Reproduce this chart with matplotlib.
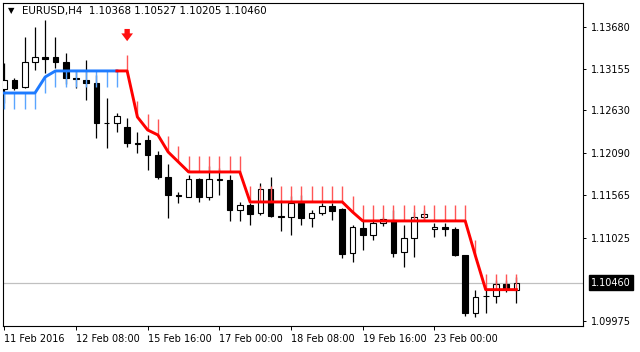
import matplotlib
matplotlib.use("Agg")
import matplotlib.pyplot as plt
import matplotlib.transforms as mtransforms

plt.rcParams['font.family'] = ['DejaVu Sans']
plt.rcParams['font.size'] = 7

# header line
symbol = "EURUSD,H4"
last_ohlc = ["1.10368", "1.10527", "1.10205", "1.10460"]

# H4 candles, one entry per bar
opens = [1.12899, 1.13012, 1.12924, 1.13239, 1.13302, 1.13302, 1.13239, 1.13037, 1.13012, 1.12974,
         1.12470, 1.12470, 1.12420, 1.12218, 1.12256, 1.12067, 1.11790, 1.11563, 1.11538, 1.11765,
         1.11538, 1.11752, 1.11752, 1.11374, 1.11437, 1.11336, 1.11639, 1.11299, 1.11286, 1.11462,
         1.11273, 1.11336, 1.11425, 1.11387, 1.10832, 1.11147, 1.11059, 1.11210, 1.11248, 1.10845,
         1.11021, 1.11286, 1.11135, 1.11160, 1.11135, 1.10807, 1.10076, 1.10291, 1.10291, 1.10442,
         1.10368]
highs = [1.13226, 1.13037, 1.13554, 1.13680, 1.13768, 1.13554, 1.13352, 1.13138, 1.13264, 1.13075,
         1.12785, 1.12596, 1.12533, 1.12357, 1.12319, 1.12118, 1.11954, 1.11601, 1.11815, 1.11777,
         1.11929, 1.11903, 1.11815, 1.11475, 1.11462, 1.11714, 1.11790, 1.11500, 1.11550, 1.11563,
         1.11374, 1.11462, 1.11462, 1.11400, 1.11185, 1.11248, 1.11248, 1.11286, 1.11374, 1.11185,
         1.11349, 1.11374, 1.11210, 1.11210, 1.11160, 1.10807, 1.10366, 1.10366, 1.10492, 1.10492,
         1.10527]
lows = [1.12722, 1.12886, 1.12911, 1.13138, 1.13100, 1.13163, 1.12962, 1.12911, 1.12760, 1.12281,
        1.12155, 1.12357, 1.12168, 1.12092, 1.11878, 1.11765, 1.11273, 1.11462, 1.11538, 1.11475,
        1.11500, 1.11563, 1.11236, 1.11236, 1.11185, 1.11311, 1.11286, 1.11110, 1.11059, 1.11185,
        1.11160, 1.11311, 1.11248, 1.10769, 1.10719, 1.10870, 1.10996, 1.11173, 1.10782, 1.10656,
        1.10782, 1.11248, 1.11034, 1.11046, 1.10795, 1.10039, 1.10026, 1.10076, 1.10202, 1.10341,
        1.10205]
closes = [1.13012, 1.12911, 1.13239, 1.13302, 1.13277, 1.13239, 1.13037, 1.13030, 1.12974, 1.12470,
          1.12465, 1.12558, 1.12218, 1.12210, 1.12067, 1.11790, 1.11563, 1.11555, 1.11765, 1.11538,
          1.11765, 1.11760, 1.11374, 1.11437, 1.11324, 1.11639, 1.11299, 1.11290, 1.11462, 1.11273,
          1.11336, 1.11425, 1.11362, 1.10820, 1.11160, 1.11059, 1.11210, 1.11261, 1.10832, 1.11021,
          1.11286, 1.11324, 1.11160, 1.11135, 1.10807, 1.10076, 1.10278, 1.10295, 1.10442, 1.10379,
          1.10460]

# trailing stop line of the indicator
trail = [1.12848, 1.12848, 1.12848, 1.12848, 1.13050, 1.13126, 1.13126, 1.13126, 1.13126, 1.13126,
         1.13126, 1.13126, 1.13126, 1.12546, 1.12382, 1.12319, 1.12105, 1.11979, 1.11853, 1.11853,
         1.11853, 1.11853, 1.11853, 1.11853, 1.11475, 1.11475, 1.11475, 1.11475, 1.11475, 1.11475,
         1.11475, 1.11475, 1.11475, 1.11475, 1.11349, 1.11236, 1.11236, 1.11236, 1.11236, 1.11236,
         1.11236, 1.11236, 1.11236, 1.11236, 1.11236, 1.11236, 1.10795, 1.10370, 1.10370, 1.10370,
         1.10370]
up_bars = 12          # bars 0..11 uptrend (blue), later bars downtrend (red)
stick = 0.0020        # length of the indicator sticks
signal_bar = 12
signal_tail, signal_tip = 1.13690, 1.13466
last_price = 1.10460

y_ticks = [1.13680, 1.13155, 1.12630, 1.12090, 1.11565, 1.11025, 1.09975]
x_tick_bars = [0, 7, 14, 21, 28, 35, 42]
x_tick_labels = ["11 Feb 2016", "12 Feb 08:00", "15 Feb 16:00", "17 Feb 00:00",
                 "18 Feb 08:00", "19 Feb 16:00", "23 Feb 00:00"]

BLUE = '#1e7bff'
BLUE_STICK = '#5aa5ff'
RED = '#ff0000'
RED_STICK = '#ff5555'

fig = plt.figure(figsize=(6.4, 3.52), dpi=100)
ax = fig.add_axes([3 / 640, 26 / 352, 580 / 640, 323 / 352])

n = len(opens)
xs = list(range(n))

# candles
for i in xs:
    o, h, l, c = opens[i], highs[i], lows[i], closes[i]
    ax.vlines(i, l, h, color='black', lw=0.9, zorder=2)
    bottom = min(o, c)
    height = max(abs(c - o), 0.00002)
    face = 'white' if c > o else 'black'
    ax.bar(i, height, bottom=bottom, width=0.55, color=face, edgecolor='black',
           linewidth=0.8, zorder=3)

# indicator sticks
for i in xs:
    if i < up_bars:
        ax.vlines(i, trail[i] - stick, trail[i], color=BLUE_STICK, lw=1, zorder=4)
    else:
        ax.vlines(i, trail[i], trail[i] + stick, color=RED_STICK, lw=1, zorder=4)

# indicator line
ax.plot(xs[:up_bars], trail[:up_bars], color=BLUE, lw=2.1, zorder=5)
ax.plot(xs[up_bars - 1:], trail[up_bars - 1:], color=RED, lw=2.1, zorder=5)

# sell signal arrow
ax.annotate('', xy=(signal_bar, signal_tip), xytext=(signal_bar, signal_tail),
            arrowprops=dict(arrowstyle='simple,head_width=1.2,head_length=0.8,tail_width=0.55',
                            color='#ff1010', lw=0), zorder=6)

# current price line
ax.axhline(last_price, color='#c0c0c0', lw=0.9, zorder=1)

ax.set_xlim(-0.12, 56.5)
ax.set_ylim(1.09912, 1.13982)

ax.yaxis.tick_right()
ax.set_yticks(y_ticks)
ax.set_yticklabels([f"{v:.5f}" for v in y_ticks])
ax.tick_params(axis='y', length=2.5, width=0.7, pad=3, labelsize=7, colors='black')
for lab in ax.get_yticklabels():
    lab.set_horizontalalignment('left')

ax.set_xticks(x_tick_bars)
ax.set_xticklabels(x_tick_labels)
ax.tick_params(axis='x', length=3, width=0.7, pad=2.5, labelsize=7, colors='black')
for lab in ax.get_xticklabels():
    lab.set_horizontalalignment('left')

for sp in ax.spines.values():
    sp.set_color('black')
    sp.set_linewidth(0.8)

# last price tag on the right scale
trans = mtransforms.blended_transform_factory(ax.transAxes, ax.transData)
ax.text(1.0 + 8 / 580, last_price, f"{last_price:.5f}", transform=trans, color='white',
        fontsize=7, va='center', ha='left', zorder=10, clip_on=False,
        bbox=dict(boxstyle='square,pad=0.25', fc='black', ec='black'))

# header
fig.text(8 / 640, 1 - 11 / 352, '\u25bc', fontsize=6, va='center', ha='left', color='black')
fig.text(22 / 640, 1 - 11 / 352, symbol + "  " + " ".join(last_ohlc), fontsize=7.4,
         va='center', ha='left', color='black')

fig.savefig("out.png", dpi=100)
